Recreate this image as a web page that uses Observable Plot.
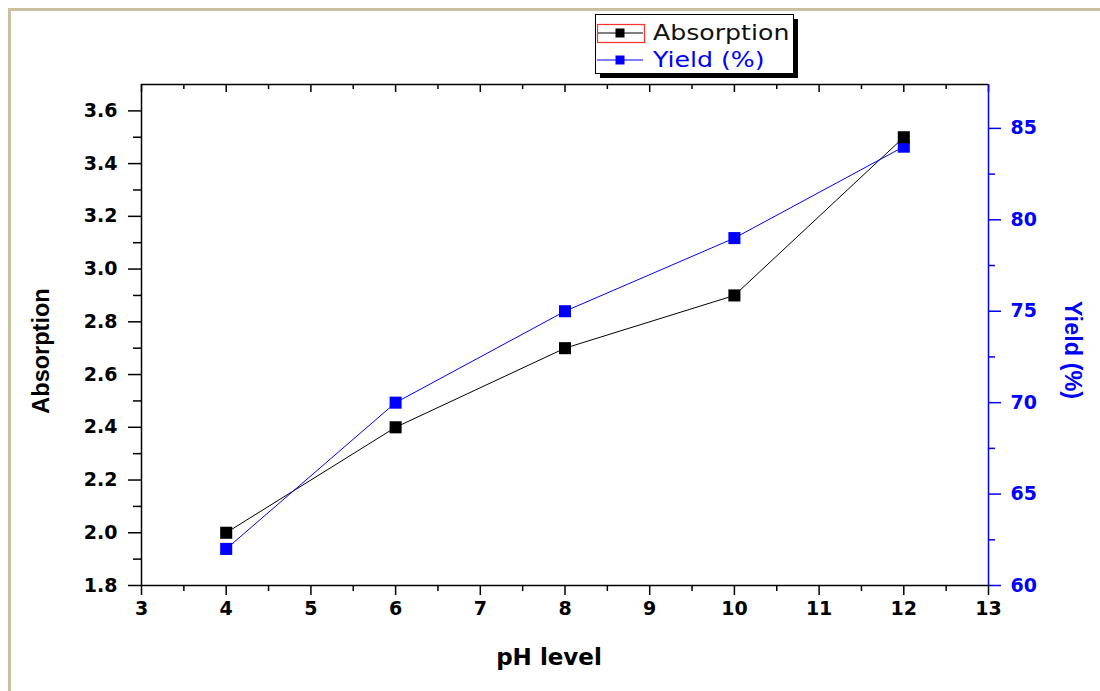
<!DOCTYPE html>
<html>
<head>
<meta charset="utf-8">
<script src="https://cdn.jsdelivr.net/npm/d3@7"></script>
<script src="https://cdn.jsdelivr.net/npm/@observablehq/plot@0.6"></script>
<style>
  html, body { margin: 0; padding: 0; background: #fff; }
  #wrap { position: relative; width: 1100px; height: 691px; overflow: hidden; }
  #chart { position: absolute; left: 0; top: 0; }
  #border { position: absolute; left: 8px; top: 8px; width: 1200px; height: 800px;
            border-top: 3px solid #c8c0a0; border-left: 3px solid #c8c0a0; pointer-events: none; }
  #legend { position: absolute; left: 595px; top: 14px; }
</style>
</head>
<body>
<div id="wrap">
  <div id="chart"></div>
  <div id="border"></div>
  <div id="legend"></div>
</div>
<script>
// ---- data ----
const pH = [4, 6, 8, 10, 12];
const absorption = [2.0, 2.4, 2.7, 2.9, 3.5];
const yieldPct = [62, 70, 75, 79, 84];

// ---- tick values ----
const xTicks = [3, 4, 5, 6, 7, 8, 9, 10, 11, 12, 13];
const xMinor = [3.5, 4.5, 5.5, 6.5, 7.5, 8.5, 9.5, 10.5, 11.5, 12.5];
const absTicks = [1.8, 2.0, 2.2, 2.4, 2.6, 2.8, 3.0, 3.2, 3.4, 3.6];
const absMinor = [1.9, 2.1, 2.3, 2.5, 2.7, 2.9, 3.1, 3.3, 3.5];
const yieldTicks = [60, 65, 70, 75, 80, 85];
const yieldMinor = [62.5, 67.5, 72.5, 77.5, 82.5];

// ---- series meta ----
const seriesNames = ["Absorption", "Yield (%)"];
const seriesColors = ["#000000", "#0000ff"];

// ---- scale domains ----
const xDomain = [3, 13];
const absDomain = [1.8, 3.7];
const yieldDomain = [60, 87.4];

// map yield (right axis) into the left axis coordinate system
const toA = d3.scaleLinear().domain(yieldDomain).range(absDomain);
const fromA = toA.invert;

const absData = pH.map((x, i) => ({pH: x, v: absorption[i]}));
const yieldData = pH.map((x, i) => ({pH: x, v: toA(yieldPct[i])}));

const W = 1100, H = 691, mL = 141, mR = 112, mT = 84, mB = 106;
const plotH = H - mT - mB;

const tickFont = {fontSize: 19, fontFamily: "DejaVu Sans, Verdana, sans-serif", fontWeight: "bold"};
const vTitleFont = {fontFamily: "Liberation Sans, Arial, sans-serif", fontWeight: "bold", fontSize: 23.5};
const xTitleFont = {fontFamily: "DejaVu Sans, Verdana, sans-serif", fontWeight: "bold", fontSize: 23};

const chart = Plot.plot({
  width: W, height: H,
  marginLeft: mL, marginRight: mR, marginTop: mT, marginBottom: mB,
  x: {domain: xDomain},
  y: {domain: absDomain},
  style: {background: "transparent", overflow: "visible", color: "#000"},
  marks: [
    // left axis
    Plot.axisY(absTicks, {anchor: "left", tickSize: 13, tickPadding: 11, strokeWidth: 1.5,
      tickFormat: d3.format(".1f"), label: null, ...tickFont}),
    Plot.axisY(absMinor, {anchor: "left", tickSize: 8, strokeWidth: 1.5, tickFormat: () => "", label: null}),
    // bottom axis
    Plot.axisX(xTicks, {anchor: "bottom", tickSize: 10, tickPadding: 6, strokeWidth: 1.5,
      tickFormat: d => String(d), label: null, ...tickFont}),
    Plot.axisX(xMinor, {anchor: "bottom", tickSize: 6, strokeWidth: 1.5, tickFormat: () => "", label: null}),
    // top mirrored ticks (inward)
    Plot.tickX(xTicks, {x: d => d, insetBottom: plotH - 8, stroke: "#000", strokeWidth: 1.5}),
    Plot.tickX(xMinor, {x: d => d, insetBottom: plotH - 5, stroke: "#000", strokeWidth: 1.5}),
    // right axis (yield)
    Plot.axisY(yieldTicks.map(toA), {anchor: "right", tickSize: 12, tickPadding: 10, strokeWidth: 1.5,
      color: "#0000ff", tickFormat: v => String(Math.round(fromA(v))), label: null, ...tickFont}),
    Plot.axisY(yieldMinor.map(toA), {anchor: "right", tickSize: 6, strokeWidth: 1.5,
      color: "#0000ff", tickFormat: () => "", label: null}),
    // frame
    Plot.ruleY([absDomain[0]], {stroke: "#000", strokeWidth: 1.5}),
    Plot.ruleY([absDomain[1]], {stroke: "#000", strokeWidth: 1.5}),
    Plot.ruleX([xDomain[0]], {stroke: "#000", strokeWidth: 1.5}),
    Plot.ruleX([xDomain[1]], {stroke: "#0000ff", strokeWidth: 1.5}),
    // series
    Plot.line(absData, {x: "pH", y: "v", stroke: seriesColors[0], strokeWidth: 1}),
    Plot.line(yieldData, {x: "pH", y: "v", stroke: seriesColors[1], strokeWidth: 1}),
    Plot.dot(yieldData, {x: "pH", y: "v", symbol: "square", r: 6.8, fill: seriesColors[1], stroke: "none"}),
    Plot.dot(absData, {x: "pH", y: "v", symbol: "square", r: 6.8, fill: seriesColors[0], stroke: "none"}),
    // axis titles
    Plot.text(["pH level"], {text: d => d, frameAnchor: "bottom", dx: -16, dy: 79,
      textAnchor: "middle", fill: "#000", ...xTitleFont}),
    Plot.text(["Absorption"], {text: d => d, frameAnchor: "left", dx: -100, dy: 16, rotate: -90,
      textAnchor: "middle", fill: "#000", ...vTitleFont}),
    Plot.text(["Yield (%)"], {text: d => d, frameAnchor: "right", dx: 84, dy: 15, rotate: 90,
      textAnchor: "middle", fill: "#0000ff", ...vTitleFont})
  ]
});
document.getElementById("chart").appendChild(chart);

// ---- legend ----
const lg = d3.select("#legend").append("svg").attr("width", 210).attr("height", 72)
  .style("overflow", "visible");
lg.append("rect").attr("x", 5).attr("y", 5).attr("width", 198).attr("height", 59).attr("fill", "#000");
lg.append("rect").attr("x", 0.5).attr("y", 0.5).attr("width", 198).attr("height", 59)
  .attr("fill", "#fff").attr("stroke", "#000").attr("stroke-width", 1);
seriesNames.forEach((name, i) => {
  const cy = 19 + i * 27;
  const g = lg.append("g");
  g.append("line").attr("x1", 2).attr("x2", 48).attr("y1", cy).attr("y2", cy)
    .attr("stroke", seriesColors[i]).attr("stroke-width", 1);
  g.append("rect").attr("x", 20.5).attr("y", cy - 4.5).attr("width", 9).attr("height", 9)
    .attr("fill", seriesColors[i]);
  g.append("text").text(name)
    .attr("transform", `translate(58,${cy + 7}) scale(1.2,1)`)
    .attr("font-family", "DejaVu Sans, Verdana, sans-serif")
    .attr("font-size", 21)
    .attr("fill", i === 0 ? "#111" : seriesColors[i]);
});
// selection rectangle around the first symbol
lg.append("rect").attr("x", 2.5).attr("y", 10.5).attr("width", 47).attr("height", 18)
  .attr("fill", "none").attr("stroke", "#ff3030").attr("stroke-width", 1.2);
</script>
</body>
</html>
